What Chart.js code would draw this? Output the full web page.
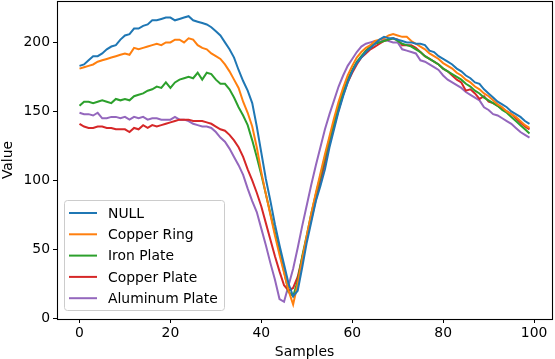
<!DOCTYPE html>
<html>
<head>
<meta charset="utf-8">
<script src="https://cdn.jsdelivr.net/npm/chart.js@4/dist/chart.umd.min.js"></script>
<style>
  html, body { margin: 0; padding: 0; background: #fff; }
  #wrap { width: 555px; height: 359px; position: relative; }
</style>
</head>
<body>
<div id="wrap"><canvas id="chart"></canvas></div>
<script>
// x positions (sample index)
const samples = Array.from({ length: 100 }, (_, i) => i);

const nullSeries = [
  183, 184, 187, 190, 190, 192, 195, 197, 198, 202,
  205, 206, 210, 210, 212, 213, 216, 216, 217, 218,
  218, 216, 217, 218, 219, 216, 215, 214, 213, 211,
  208, 205, 200, 195, 189, 180, 172, 165, 156, 139,
  120, 101, 85, 68, 53, 39, 25, 16, 20, 37,
  55, 70, 85, 96, 108, 124, 137, 150, 161, 171,
  179, 185, 189, 193, 196, 199, 202, 204, 203, 203,
  202, 201, 200, 200, 199, 199, 198, 194, 193, 190,
  188, 186, 184, 181, 179, 176, 174, 171, 170, 166,
  163, 160, 157, 155, 153, 150, 148, 146, 143, 141
];
const copperRing = [
  181, 182, 183, 184, 186, 187, 188, 189, 190, 191,
  192, 191, 196, 195, 196, 197, 198, 199, 198, 200,
  200, 202, 202, 200, 203, 202, 198, 196, 195, 192,
  190, 188, 184, 179, 173, 167, 157, 149, 139, 124,
  106, 90, 75, 60, 46, 33, 20, 10, 25, 43,
  60, 76, 91, 105, 119, 132, 145, 157, 167, 176,
  183, 189, 193, 196, 198, 201, 202, 203, 205, 206,
  205, 204, 204, 201, 199, 197, 195, 192, 190, 188,
  185, 183, 181, 178, 176, 173, 171, 168, 166, 163,
  161, 158, 155, 153, 150, 148, 146, 143, 140, 138
];
const ironPlate = [
  154, 157, 157, 156, 157, 158, 157, 156, 159, 158,
  159, 158, 161, 162, 163, 165, 166, 168, 167, 171,
  167, 171, 173, 174, 175, 174, 178, 173, 178, 177,
  173, 170, 170, 166, 160, 153, 147, 140, 129, 117,
  104, 90, 76, 62, 49, 34, 19, 16, 27, 45,
  60, 76, 90, 103, 117, 130, 142, 154, 164, 173,
  180, 186, 190, 194, 197, 199, 200, 201, 202, 203,
  201, 199, 198, 197, 195, 193, 190, 188, 186, 184,
  181, 179, 177, 175, 173, 170, 168, 165, 163, 160,
  158, 156, 154, 151, 149, 146, 143, 140, 137, 134
];
const copperPlate = [
  141, 139, 138, 138, 139, 139, 138, 138, 137, 137,
  137, 135, 138, 137, 140, 138, 140, 139, 140, 141,
  142, 143, 144, 144, 144, 143, 143, 143, 142, 141,
  139, 137, 136, 133, 129, 124, 117, 108, 100, 91,
  81, 69, 57, 45, 34, 24, 20, 22, 30, 44,
  58, 72, 86, 99, 113, 126, 139, 151, 162, 171,
  178, 184, 189, 192, 195, 197, 199, 201, 202, 203,
  202, 198, 198, 198, 196, 193, 190, 188, 186, 184,
  181, 179, 176, 173, 171, 165, 166, 163, 159, 161,
  157, 156, 154, 152, 150, 148, 145, 142, 139, 137
];
const aluminumPlate = [
  149, 148, 148, 147, 149, 145, 145, 146, 146, 145,
  146, 144, 146, 145, 146, 144, 145, 145, 144, 144,
  144, 146, 144, 144, 143, 141, 140, 139, 139, 138,
  135, 131, 128, 123, 117, 111, 104, 94, 85, 77,
  65, 53, 40, 28, 14, 12, 24, 36, 51, 67,
  82, 97, 111, 124, 137, 148, 158, 168, 176, 183,
  188, 193, 197, 199, 200, 201, 200, 202, 201, 200,
  200, 195, 194, 193, 192, 187, 186, 184, 182, 180,
  176, 173, 171, 169, 167, 164, 162, 160, 158, 153,
  151, 148, 147, 145, 143, 141, 138, 135, 133, 131
];

const seriesNames = ['NULL', 'Copper Ring', 'Iron Plate', 'Copper Plate', 'Aluminum Plate'];
const seriesValues = [nullSeries, copperRing, ironPlate, copperPlate, aluminumPlate];
const seriesColors = ['#1f77b4', '#ff7f0e', '#2ca02c', '#d62728', '#9467bd'];

const xTicks = [0, 20, 40, 60, 80, 100];
const yTicks = [0, 50, 100, 150, 200];

const FONT = { family: '"DejaVu Sans", sans-serif', size: 13.9 };

// matplotlib style full frame
const frameBox = {
  id: 'frameBox',
  afterDatasetsDraw(chart) {
    const { ctx, chartArea: a } = chart;
    ctx.save();
    ctx.strokeStyle = '#000';
    ctx.lineWidth = 1.1;
    ctx.strokeRect(Math.round(a.left) + 0.5, Math.round(a.top) + 0.5,
      Math.round(a.right - a.left), Math.round(a.bottom - a.top));
    ctx.restore();
  }
};

// legend in the lower left corner, drawn over the lines
const boxLegend = {
  id: 'boxLegend',
  afterDraw(chart) {
    const { ctx } = chart;
    const x0 = 64.5, y0 = 200.5, w = 160, h = 110, r = 3;
    ctx.save();
    ctx.beginPath();
    ctx.roundRect(x0, y0, w, h, r);
    ctx.fillStyle = 'rgba(255,255,255,0.8)';
    ctx.fill();
    ctx.strokeStyle = '#cccccc';
    ctx.lineWidth = 1;
    ctx.stroke();
    ctx.font = `${FONT.size}px ${FONT.family}`;
    ctx.textBaseline = 'middle';
    chart.data.datasets.forEach((ds, k) => {
      const y = 213 + k * 21.3;
      ctx.beginPath();
      ctx.moveTo(69, y);
      ctx.lineTo(97, y);
      ctx.strokeStyle = ds.borderColor;
      ctx.lineWidth = 2;
      ctx.stroke();
      ctx.fillStyle = '#000';
      ctx.fillText(ds.label, 108, y + 1);
    });
    ctx.restore();
  }
};

const datasets = seriesNames.map((name, k) => ({
  label: name,
  data: samples.map((s, i) => ({ x: s, y: seriesValues[k][i] })),
  borderColor: seriesColors[k],
  backgroundColor: seriesColors[k],
  borderWidth: 2,
  pointRadius: 0,
  tension: 0,
  fill: false
}));

new Chart(document.getElementById('chart'), {
  type: 'line',
  data: { datasets },
  options: {
    responsive: true,
    maintainAspectRatio: false,
    animation: false,
    devicePixelRatio: 1,
    layout: { padding: { top: 1, right: 3, left: 0, bottom: 0 } },
    plugins: {
      legend: { display: false },
      tooltip: { enabled: false }
    },
    scales: {
      x: {
        type: 'linear',
        min: -4.95,
        max: 103.95,
        afterBuildTicks: s => { s.ticks = xTicks.map(v => ({ value: v })); },
        afterFit: s => { s.height = 40; s.paddingLeft = 0; s.paddingRight = 0; },
        grid: { display: true, drawOnChartArea: false, drawTicks: true, tickLength: 4, color: '#000', tickWidth: 1 },
        border: { display: true, color: '#000', width: 1 },
        ticks: { color: '#000', font: FONT, padding: 2, maxRotation: 0, autoSkip: false },
        title: { display: true, text: 'Samples', color: '#000', font: { ...FONT, lineHeight: 1.0 }, padding: { top: 0, bottom: 0 } }
      },
      y: {
        type: 'linear',
        min: -0.5,
        max: 230,
        afterBuildTicks: s => { s.ticks = yTicks.map(v => ({ value: v })); },
        afterFit: s => { s.width = 57; s.paddingTop = 0; s.paddingBottom = 0; },
        grid: { display: true, drawOnChartArea: false, drawTicks: true, tickLength: 4, color: '#000', tickWidth: 1 },
        border: { display: true, color: '#000', width: 1 },
        ticks: { color: '#000', font: FONT, padding: 3, autoSkip: false },
        title: { display: true, text: 'Value', color: '#000', font: { ...FONT, lineHeight: 1.2 }, padding: { top: 0, bottom: 0 } }
      }
    }
  },
  plugins: [frameBox, boxLegend]
});
</script>
</body>
</html>
